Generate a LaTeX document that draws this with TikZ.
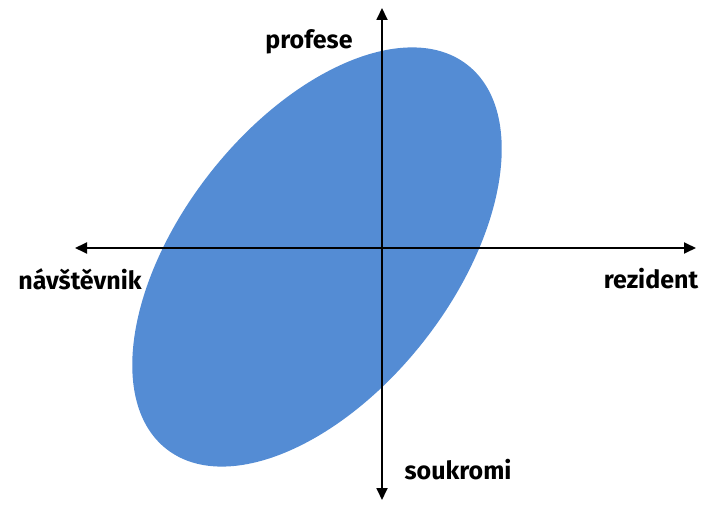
\documentclass[tikz,border=0pt]{standalone}
\usepackage{fontspec}
\setsansfont{Fira Sans}
\usetikzlibrary{arrows.meta}
\definecolor{ellblue}{RGB}{84,140,212}
\begin{document}
\begin{tikzpicture}[x=1pt, y=1pt,
    axis/.style={line width=1.8pt, -{Triangle[length=12pt, width=11pt]}},
    lbl/.style={font=\sffamily\bfseries\fontsize{25}{28}\selectfont, inner sep=0pt}]

            \useasboundingbox (0,0) rectangle (704,506);

            % the ellipse
            \fill[ellblue, rotate around={51.9:(317,249)}] (317,249) ellipse [x radius=244, y radius=136];

            % axes
            \coordinate (o) at (382,258);
            \coordinate (w) at (75,258);
            \coordinate (e) at (696,258);
            \coordinate (n) at (382,498);
            \coordinate (s) at (382,6);

            \draw[axis] (o) -- (w);
            \draw[axis] (o) -- (e);
            \draw[axis] (o) -- (n);
            \draw[axis] (o) -- (s);

            \node[lbl] (profese) at (309,464) {profese};
            \node[lbl] (navst) at (80,227) {návštěvnik};
            \node[lbl] (rezident) at (651,227) {rezident};
            \node[lbl] (soukromi) at (458,36) {soukromi};

            \end{tikzpicture}
\end{document}
